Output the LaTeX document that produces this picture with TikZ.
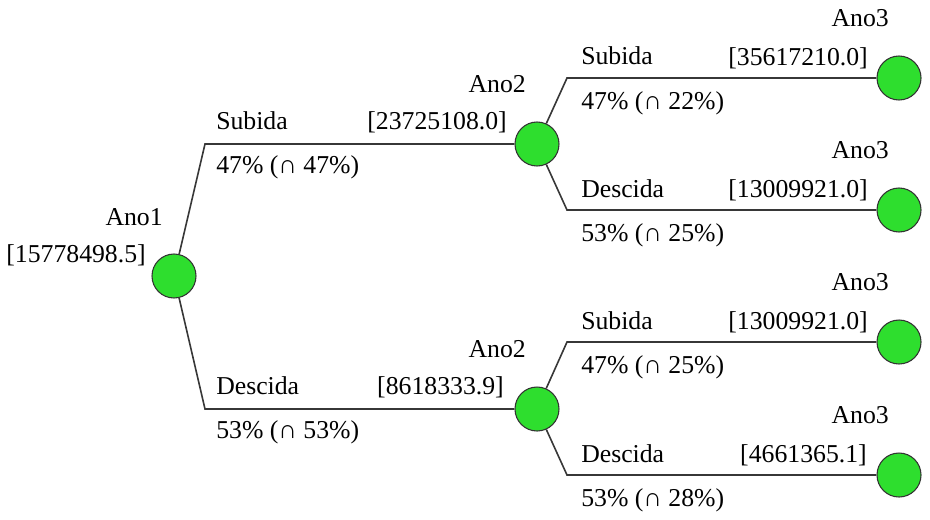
\documentclass[tikz,border=0pt]{standalone}
\usepackage{fontspec}
\setmainfont{Liberation Serif}
\definecolor{nodegreen}{RGB}{46,222,46}
\definecolor{edgegray}{RGB}{55,55,55}
\begin{document}
\begin{tikzpicture}[x=0.75pt,y=-0.75pt,
  state/.style={circle,draw=black!80,line width=0.8pt,fill=nodegreen,minimum size=33pt,inner sep=0pt},
  edge/.style={draw=edgegray,line width=1.2pt},
  txt/.style={inner sep=0pt,font=\fontsize{19.3}{22}\selectfont},
  rlbl/.style={txt,anchor=base east},
  llbl/.style={txt,anchor=base west}]
\useasboundingbox (0,0) rectangle (930,519);
% decision nodes
\node[state] (a1) at (174,276) {};
\node[state] (a2) at (537,144) {};
\node[state] (b2) at (537,409) {};
\node[state] (d1) at (899,78) {};
\node[state] (d2) at (899,210) {};
\node[state] (d3) at (899,342) {};
\node[state] (d4) at (899,475) {};
% corners
\coordinate (c1) at (205,144);
\coordinate (c2) at (205,409);
\coordinate (c3) at (567,78);
\coordinate (c4) at (567,210);
\coordinate (c5) at (567,342);
\coordinate (c6) at (567,475);
% connectors
\draw[edge] (a1) -- (c1) -- (a2);
\draw[edge] (a1) -- (c2) -- (b2);
\draw[edge] (a2) -- (c3) -- (d1);
\draw[edge] (a2) -- (c4) -- (d2);
\draw[edge] (b2) -- (c5) -- (d3);
\draw[edge] (b2) -- (c6) -- (d4);
% node labels
\node[rlbl] (t1) at (163,225) {Ano1};
\node[rlbl] (v1) at (146,262) {[15778498.5]};
\node[rlbl] (t2) at (526,92) {Ano2};
\node[rlbl] (v2) at (507,129) {[23725108.0]};
\node[rlbl] (t3) at (526,357) {Ano2};
\node[rlbl] (v3) at (504,394) {[8618333.9]};
\node[rlbl] (t4) at (889,26) {Ano3};
\node[rlbl] (v4) at (868,65) {[35617210.0]};
\node[rlbl] (t5) at (889,158) {Ano3};
\node[rlbl] (v5) at (868,197) {[13009921.0]};
\node[rlbl] (t6) at (889,290) {Ano3};
\node[rlbl] (v6) at (868,329) {[13009921.0]};
\node[rlbl] (t7) at (889,423) {Ano3};
\node[rlbl] (v7) at (867,462) {[4661365.1]};
% branch labels
\node[llbl] (s1) at (216,129) {Subida};
\node[llbl] (p1) at (216,173) {47\% (∩ 47\%)};
\node[llbl] (s2) at (216,394) {Descida};
\node[llbl] (p2) at (216,438) {53\% (∩ 53\%)};
\node[llbl] (s3) at (581,64) {Subida};
\node[llbl] (p3) at (581,109) {47\% (∩ 22\%)};
\node[llbl] (s4) at (581,197) {Descida};
\node[llbl] (p4) at (581,241) {53\% (∩ 25\%)};
\node[llbl] (s5) at (581,329) {Subida};
\node[llbl] (p5) at (581,373) {47\% (∩ 25\%)};
\node[llbl] (s6) at (581,462) {Descida};
\node[llbl] (p6) at (581,506) {53\% (∩ 28\%)};
\end{tikzpicture}
\end{document}
